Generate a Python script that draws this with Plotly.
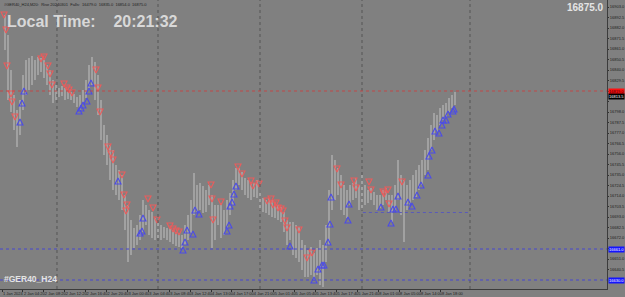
import plotly.graph_objects as go

# ---------------- data ----------------
bar_high = [16895, 16875, 16840, 16815, 16800, 16810, 16835, 16850, 16852, 16854,
            16850, 16853, 16852, 16850, 16845, 16840, 16830, 16825, 16822, 16824,
            16822, 16820, 16818, 16816, 16813, 16815, 16820, 16830, 16845, 16853,
            16848, 16835, 16810, 16785, 16775, 16765, 16760, 16745, 16740, 16735,
            16715, 16705, 16690, 16682, 16685, 16695, 16710, 16705, 16700, 16698,
            16692, 16687, 16685, 16683, 16682, 16682, 16680, 16678, 16677, 16675,
            16685, 16695, 16710, 16737, 16725, 16727, 16724, 16720, 16725, 16715,
            16705, 16705, 16707, 16700, 16710, 16717, 16730, 16742, 16742, 16738,
            16732, 16730, 16728, 16727, 16730, 16720, 16712, 16710, 16712, 16710,
            16708, 16705, 16703, 16698, 16690, 16688, 16688, 16685, 16683, 16670,
            16665, 16660, 16663, 16657, 16662, 16670, 16665, 16685, 16720, 16755,
            16750, 16742, 16735, 16725, 16720, 16725, 16727, 16732, 16725, 16735,
            16725, 16720, 16722, 16718, 16715, 16715, 16720, 16722, 16715, 16715,
            16725, 16750, 16735, 16730, 16725, 16730, 16735, 16740, 16745, 16750,
            16760, 16772, 16785, 16797, 16795, 16802, 16805, 16807, 16812, 16815,
            16818]
bar_low = [16860, 16810, 16798, 16780, 16763, 16775, 16800, 16815, 16820, 16825,
           16830, 16835, 16838, 16832, 16825, 16815, 16807, 16810, 16813, 16814,
           16810, 16811, 16810, 16807, 16803, 16800, 16807, 16812, 16820, 16825,
           16810, 16795, 16770, 16755, 16745, 16730, 16720, 16715, 16710, 16700,
           16680, 16648, 16655, 16662, 16665, 16670, 16678, 16685, 16675, 16672,
           16670, 16672, 16670, 16672, 16670, 16668, 16666, 16664, 16663, 16660,
           16665, 16670, 16677, 16695, 16698, 16700, 16697, 16698, 16705, 16662,
           16670, 16685, 16672, 16675, 16680, 16695, 16705, 16720, 16725, 16720,
           16715, 16712, 16710, 16713, 16712, 16700, 16698, 16697, 16695, 16693,
           16692, 16690, 16688, 16678, 16665, 16670, 16655, 16652, 16648, 16640,
           16633, 16633, 16635, 16630, 16635, 16625, 16623, 16648, 16665, 16700,
           16710, 16715, 16700, 16695, 16692, 16705, 16710, 16712, 16700, 16700,
           16705, 16707, 16710, 16705, 16700, 16702, 16705, 16710, 16698, 16688,
           16700, 16710, 16695, 16668, 16700, 16705, 16710, 16713, 16720, 16725,
           16735, 16740, 16760, 16770, 16778, 16785, 16790, 16792, 16798, 16802,
           16805]

sell_bar = [-0.33, 0.33, 0.67, 2.0, 2.33, 3.33, 12.0, 13.0, 14.33, 15.0, 15.67,
            19.67, 20.67, 21.33, 22.33, 30.33, 31.0, 31.67, 34.33, 35.33, 36.0,
            39.0, 39.67, 40.33, 40.67, 47.67, 49.33, 50.67, 55.0, 56.0, 57.0, 58.0,
            68.67, 69.0, 69.33, 72.0, 77.67, 79.0, 82.0, 82.67, 84.67, 87.33, 88.67,
            89.33, 90.33, 91.0, 92.0, 92.67, 93.33, 94.0, 98.0, 100.67, 102.33,
            110.67, 112.0, 116.33, 117.0, 121.33, 122.0, 126.0, 126.33, 127.67,
            128.0, 132.33]
sell_price = [16892, 16877, 16841, 16813, 16805, 16790, 16848, 16850, 16841, 16833,
              16822, 16823, 16819, 16817, 16814, 16837, 16819, 16795, 16760, 16753,
              16747, 16732, 16712, 16696, 16702, 16708, 16699, 16687, 16681, 16678,
              16676, 16675, 16722, 16708, 16687, 16705, 16740, 16733, 16726, 16721,
              16723, 16706, 16708, 16702, 16704, 16699, 16698, 16696, 16686, 16679,
              16677, 16649, 16654, 16738, 16722, 16726, 16719, 16725, 16717, 16715,
              16713, 16717, 16703, 16725]

buy_bar = [5.0, 5.67, 6.33, 24.67, 25.33, 26.0, 27.33, 28.0, 28.67, 37.67, 45.0,
           45.67, 46.0, 59.33, 60.0, 60.67, 62.67, 63.33, 64.67, 74.0, 74.67, 75.0,
           75.67, 76.33, 77.0, 95.0, 103.0, 104.33, 105.67, 106.33, 107.67, 108.33,
           108.67, 114.33, 114.67, 125.33, 128.67, 129.33, 130.33, 131.0, 134.33,
           135.67, 137.33, 138.67, 141.0, 141.33, 142.33, 143.33, 144.67, 145.67,
           146.0, 147.0, 147.67, 149.33, 149.67]
buy_price = [16791, 16810, 16822, 16802, 16805, 16808, 16812, 16822, 16830, 16732,
             16680, 16682, 16695, 16663, 16671, 16683, 16679, 16703, 16699, 16682,
             16688, 16707, 16711, 16719, 16727, 16667, 16633, 16644, 16648, 16648,
             16671, 16689, 16716, 16693, 16709, 16706, 16690, 16704, 16704, 16717,
             16711, 16707, 16718, 16728, 16738, 16757, 16763, 16782, 16780, 16788,
             16793, 16793, 16799, 16802, 16804]

price_ticks = [16903.0, 16892.5, 16882.0, 16871.5, 16861.0, 16850.5, 16840.0,
               16829.5, 16819.0, 16808.5, 16798.0, 16787.5, 16777.0, 16766.5,
               16756.0, 16745.5, 16735.0, 16724.5, 16714.0, 16703.5, 16693.0,
               16682.5, 16672.0, 16661.5, 16651.0, 16640.5]
time_labels = ["1 Jan 2024", "2 Jan 04:20", "2 Jan 08:20", "2 Jan 12:20",
               "2 Jan 16:40", "2 Jan 20:40", "3 Jan 00:40", "3 Jan 04:40",
               "3 Jan 08:40", "3 Jan 12:40", "4 Jan 13:00", "4 Jan 17:00",
               "4 Jan 21:00", "5 Jan 01:40", "5 Jan 05:40", "5 Jan 13:40",
               "5 Jan 17:40", "5 Jan 21:40", "8 Jan 01:00", "8 Jan 05:00",
               "8 Jan 14:00", "8 Jan 18:00"]

current_price = 16819.0
bid_price = 16813.5
level_prices = [16661.0, 16630.0]
partial_level = 16697.5
partial_from_bar, partial_to_bar = 119.3, 154.3
separator_bars = [17.33, 51.0, 85.0, 119.0, 155.0]

# ---------------- figure ----------------
BG = "#808080"
FONT = "Liberation Sans, Arial"
xs, ys = [], []
for i, (h, l) in enumerate(zip(bar_high, bar_low)):
    xs += [i, i, None]
    ys += [l, h, None]

fig = go.Figure()
fig.add_trace(go.Scatter(x=xs, y=ys, mode="lines", hoverinfo="skip",
                         line=dict(color="#c2c2c2", width=1)))
fig.add_trace(go.Scatter(x=sell_bar, y=sell_price, mode="markers",
                         marker=dict(symbol="arrow-down-open", size=6,
                                     color="#ea5c5c", line=dict(width=1.1, color="#ea5c5c"))))
fig.add_trace(go.Scatter(x=buy_bar, y=buy_price, mode="markers",
                         marker=dict(symbol="arrow-up-open", size=6,
                                     color="#4c4ce6", line=dict(width=1.1, color="#4c4ce6"))))

shapes = []
for sb in separator_bars:
    shapes.append(dict(type="line", xref="x", yref="paper", x0=sb, x1=sb, y0=0, y1=1,
                       line=dict(color="#555555", width=1, dash="dot")))
shapes.append(dict(type="line", xref="paper", yref="y", x0=0, x1=1,
                   y0=current_price, y1=current_price,
                   line=dict(color="#c04848", width=1, dash="dot")))
for lp in level_prices:
    shapes.append(dict(type="line", xref="paper", yref="y", x0=0, x1=1, y0=lp, y1=lp,
                       line=dict(color="#4646d0", width=1, dash="dot")))
shapes.append(dict(type="line", xref="x", yref="y", x0=partial_from_bar, x1=partial_to_bar,
                   y0=partial_level, y1=partial_level,
                   line=dict(color="#5a5ab8", width=1, dash="dot")))

annotations = [
    dict(text="<b>Local Time:    20:21:32</b>", xref="paper", yref="paper", x=0.008, y=0.925,
         xanchor="left", yanchor="middle", showarrow=False,
         font=dict(family=FONT, size=16, color="#d8d8d8")),
    dict(text="<b>16875.0</b>", xref="paper", yref="paper", x=0.998, y=0.975,
         xanchor="right", yanchor="middle", showarrow=False,
         font=dict(family=FONT, size=10, color="#e4e4e4")),
    dict(text="<b>#GER40_H24</b>", xref="paper", yref="paper", x=0.003, y=0.012,
         xanchor="left", yanchor="bottom", showarrow=False,
         font=dict(family=FONT, size=8.5, color="#e4e4e4")),
    dict(text="#GER40_H24,M20:  Rise 20240301  Falls:  16479.0  16835.0  16854.0  16875.0",
         xref="paper", yref="paper", x=0.003, y=1.0, xanchor="left", yanchor="top",
         showarrow=False, font=dict(family=FONT, size=4, color="#1e1e1e")),
]
for price, bg, fg in [(current_price, "#ff1010", "#300000"),
                      (bid_price, "#000000", "#ffffff"),
                      (level_prices[0], "#1414ff", "#ffffff"),
                      (level_prices[1], "#1414ff", "#ffffff")]:
    annotations.append(dict(text=f"{price:.1f}", xref="paper", yref="y", x=1.0, y=price,
                            xanchor="left", yanchor="middle", xshift=1, showarrow=False,
                            bgcolor=bg, borderpad=0,
                            font=dict(family=FONT, size=4, color=fg)))

# tick labels hidden behind the price boxes
covered = {16819.0, 16808.5, 16661.5}
ytext = ["" if p in covered else f"{p:.1f}" for p in price_ticks]
tick_pos = [-1 + 6.967 * k for k in range(len(time_labels))]

fig.update_layout(
    width=625, height=297, margin=dict(l=0, r=18, t=0, b=8, autoexpand=False),
    paper_bgcolor=BG, plot_bgcolor=BG, showlegend=False,
    shapes=shapes, annotations=annotations,
    xaxis=dict(range=[-5 / 3, 602 / 3], showgrid=False, zeroline=False,
               tickvals=tick_pos, ticktext=time_labels, ticks="outside", ticklen=2,
               tickcolor="#303030", ticklabelposition="outside right", tickangle=0,
               automargin=False,
               tickfont=dict(family=FONT, size=4, color="#222222"),
               showline=True, linecolor="#3c3c3c", linewidth=1, mirror=True,
               fixedrange=True),
    yaxis=dict(range=[16621, 16910], side="right", showgrid=False, zeroline=False,
               tickvals=price_ticks, ticktext=ytext, automargin=False,
               ticks="outside", ticklen=1, tickcolor="#303030",
               tickfont=dict(family=FONT, size=4, color="#222222"),
               showline=True, linecolor="#3c3c3c", linewidth=1, mirror=True,
               fixedrange=True),
)

fig.write_html("out.html")
